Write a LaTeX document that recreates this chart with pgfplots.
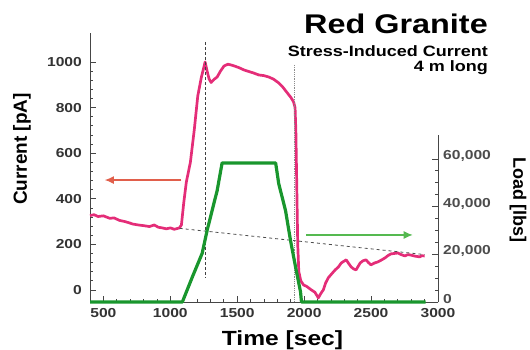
\documentclass[border=0pt]{standalone}
\usepackage{fontspec}
\setmainfont{Liberation Sans}[FakeStretch=1.2]
\newfontfamily\plainfont{Liberation Sans}
\usepackage{pgfplots}
\pgfplotsset{compat=1.18}
\usetikzlibrary{arrows.meta}
\definecolor{pinkc}{RGB}{228,45,120}
\definecolor{greenc}{RGB}{25,150,45}
\definecolor{arrred}{RGB}{225,95,75}
\definecolor{arrgreen}{RGB}{85,185,80}
\definecolor{axisc}{RGB}{70,70,70}
\begin{document}
\begin{tikzpicture}
\useasboundingbox (0,0) rectangle (530pt,349pt);
\begin{axis}[
  at={(90pt,47pt)}, anchor=south west, scale only axis,
  width=348pt, height=269pt,
  xmin=400, xmax=3000, ymin=-53, ymax=1127,
  axis x line*=bottom, axis y line*=left,
  axis line style={axisc, line width=0.9pt},
  xtick={500,1000,...,3000}, ytick={0,200,...,1000},
  minor x tick num=4, minor y tick num=4,
  tick align=inside,
  major tick length=6pt, minor tick length=3pt,
  tick style={axisc, line width=0.7pt},
  ticklabel style={font=\bfseries\fontsize{13}{13}\selectfont, text=black!80},
  yticklabel style={inner sep=0pt, xshift=-8pt},
  xticklabel style={inner sep=0pt, yshift=-6pt},
  /pgf/number format/assume math mode=true,
  /pgf/number format/1000 sep={},
  clip=false,
]
\addplot[pinkc, line width=2.7pt, line join=round] coordinates {
(400,326) (430,330) (460,322) (500,325) (548,314) (580,316) (620,305) (660,300)
(700,293) (719,289) (760,285) (800,282) (845,278) (880,285) (910,275) (940,272)
(971,268) (1000,272) (1030,266) (1068,272) (1083,285) (1100,380) (1120,474)
(1150,560) (1179,702) (1205,850) (1231,930) (1250,975) (1260,1000) (1275,960)
(1290,925) (1305,910) (1330,925) (1350,934) (1375,960) (1401,982) (1430,990)
(1453,987) (1480,982) (1513,975) (1550,965) (1587,958) (1620,952) (1661,943)
(1700,940) (1735,934) (1770,925) (1810,908) (1840,890) (1869,868) (1900,845)
(1921,825) (1932,800) (1938,700) (1945,450) (1952,200) (1960,80) (1975,40)
(1995,22) (2020,15) (2054,0) (2080,-10) (2106,-35) (2125,-15) (2143,0) (2160,30)
(2180,53) (2205,70) (2232,88) (2255,100) (2277,118) (2295,125) (2314,132)
(2330,118) (2351,101) (2370,92) (2388,88) (2405,105) (2418,118) (2440,128)
(2462,132) (2480,120) (2499,110) (2525,118) (2551,123) (2580,132) (2603,140)
(2625,150) (2648,158) (2675,160) (2700,162) (2725,155) (2752,149) (2775,155)
(2796,153) (2830,148) (2863,145) (2880,150) (2900,149)
};
\addplot[black!75, densely dashed, line width=0.8pt] coordinates {(1260,1088) (1260,53)};
\addplot[black!45, densely dotted, line width=0.8pt] coordinates {(1928,987) (1928,-53)};
\addplot[black!70, dashed, line width=0.8pt] coordinates {(1070,270) (2900,155)};
\addplot[arrred, line width=1.2pt, -{Latex[length=9pt,width=8pt]}] coordinates {(1083,482) (511,482)};
\addplot[arrgreen, line width=1.2pt, -{Latex[length=9pt,width=8pt]}] coordinates {(2017,241) (2811,241)};
\end{axis}
\begin{axis}[
  at={(90pt,47pt)}, anchor=south west, scale only axis,
  width=348pt, height=167pt,
  xmin=400, xmax=3000, ymin=0, ymax=70000,
  axis x line=none, axis y line*=right,
  axis line style={axisc, line width=0.9pt},
  ytick={0,20000,40000,60000}, minor y tick num=3,
  tick align=inside,
  major tick length=6pt, minor tick length=3pt,
  tick style={axisc, line width=0.7pt},
  ticklabel style={font=\bfseries\fontsize{13}{13}\selectfont, text=black!70},
  yticklabel style={inner sep=0pt, xshift=5pt, yshift=3pt},
  scaled y ticks=false,
  /pgf/number format/assume math mode=true,
  /pgf/number format/1000 sep={,},
  clip=false,
]
\addplot[greenc, line width=3.2pt, line join=round] coordinates {
(400,0) (1090,0) (1164,10400) (1238,20400) (1275,30000) (1312,38300) (1350,46700)
(1387,58300) (1787,58300) (1810,49600) (1861,38300) (1898,25800) (1936,14600)
(1973,4200) (1980,0) (2907,0)
};
\end{axis}
\node[anchor=base east, inner sep=0pt, font=\bfseries\fontsize{27}{27}\selectfont] at (488pt,316pt) {Red Granite};
\node[anchor=base east, inner sep=0pt, font=\bfseries\fontsize{15}{15}\selectfont] at (488pt,292pt) {Stress-Induced Current};
\node[anchor=base east, inner sep=0pt, font=\bfseries\fontsize{15}{15}\selectfont] at (488pt,277pt) {4 m long};
\node[anchor=base, inner sep=0pt, font=\bfseries\fontsize{20.5}{20.5}\selectfont] at (282.5pt,4pt) {Time [sec]};
\node[rotate=90, inner sep=0pt, font=\plainfont\bfseries\fontsize{19}{19}\selectfont] at (22pt,200pt) {Current [pA]};
\node[rotate=-90, inner sep=0pt, font=\plainfont\bfseries\fontsize{18}{18}\selectfont] at (518pt,149pt) {Load [lbs]};
\end{tikzpicture}
\end{document}
